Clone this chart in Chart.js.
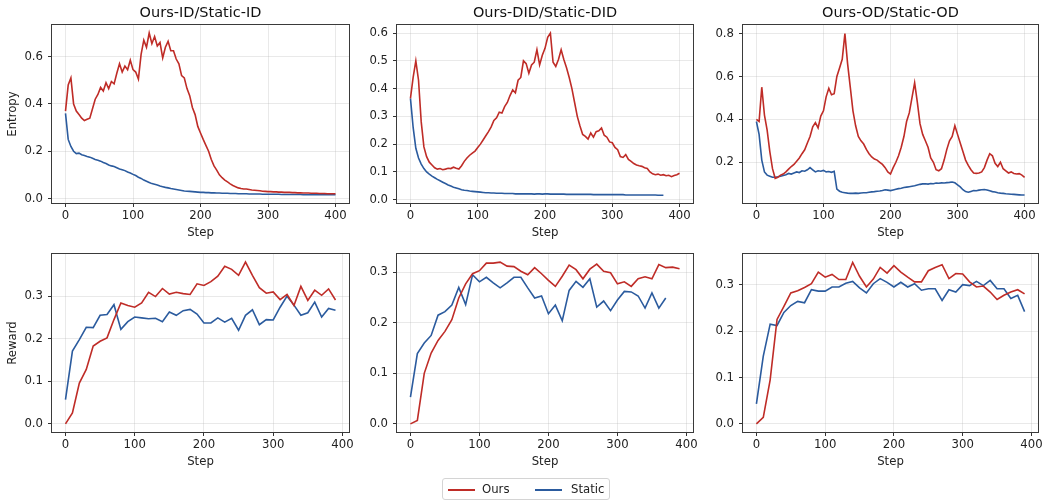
<!DOCTYPE html>
<html>
<head>
<meta charset="utf-8">
<title>Entropy and reward: Ours vs Static</title>
<script src="https://cdn.jsdelivr.net/npm/chart.js@4.4.1/dist/chart.umd.min.js"></script>
<style>
  html, body { margin: 0; padding: 0; background: #fff; }
  #figure { position: relative; width: 1045px; height: 501px; overflow: hidden; font-family: 'DejaVu Sans', sans-serif; }
  #figure canvas { position: absolute; }
  .legend { position: absolute; left: 442px; top: 478px; width: 166px; height: 20px; border: 1px solid #d4d4d4; border-radius: 3px; background: #fff; }
  .legend .swatch { position: absolute; top: 10px; height: 2px; width: 27px; }
  .legend .label { position: absolute; top: 0; line-height: 21px; font-size: 11.7px; color: #222; }
</style>
</head>
<body>
<div id="figure">
  <canvas id="c0"></canvas>
  <canvas id="c1"></canvas>
  <canvas id="c2"></canvas>
  <canvas id="c3"></canvas>
  <canvas id="c4"></canvas>
  <canvas id="c5"></canvas>
  <div class="legend" id="legend"></div>
</div>
<script>
const OURS_COLOR = '#bf2c27';
const STATIC_COLOR = '#2b5b9e';

// entropy logged every 4 steps, reward every 10 steps
const entropySteps = Array.from({ length: 101 }, (_, i) => i * 4);
const rewardSteps = Array.from({ length: 40 }, (_, i) => i * 10);

const stepTicks = [0, 100, 200, 300, 400];
const entropyIdTicks = [0, 0.2, 0.4, 0.6];
const entropyDidTicks = [0, 0.1, 0.2, 0.3, 0.4, 0.5, 0.6];
const entropyOdTicks = [0.2, 0.4, 0.6, 0.8];
const rewardTicks = [0, 0.1, 0.2, 0.3];

const entropyIdOurs = [
  0.37, 0.48, 0.51, 0.40, 0.37, 0.355, 0.34, 0.33, 0.335, 0.34,
  0.38, 0.42, 0.44, 0.47, 0.455, 0.49, 0.465, 0.495, 0.485, 0.53,
  0.57, 0.535, 0.56, 0.545, 0.585, 0.545, 0.535, 0.505, 0.61, 0.67,
  0.64, 0.70, 0.655, 0.685, 0.645, 0.66, 0.595, 0.64, 0.665, 0.625,
  0.625, 0.59, 0.57, 0.52, 0.51, 0.465, 0.435, 0.385, 0.355, 0.305,
  0.277, 0.25, 0.225, 0.20, 0.165, 0.138, 0.12, 0.10, 0.088, 0.078,
  0.07, 0.062, 0.055, 0.05, 0.045, 0.042, 0.04, 0.04, 0.038, 0.036,
  0.035, 0.034, 0.033, 0.031, 0.03, 0.029, 0.029, 0.028, 0.028, 0.027,
  0.027, 0.026, 0.026, 0.026, 0.025, 0.025, 0.024, 0.024, 0.023, 0.023,
  0.023, 0.022, 0.022, 0.022, 0.021, 0.021, 0.021, 0.02, 0.02, 0.02,
  0.02
];
const entropyIdStatic = [
  0.36, 0.25, 0.22, 0.20, 0.19, 0.192, 0.185, 0.182, 0.178, 0.175,
  0.17, 0.165, 0.162, 0.158, 0.152, 0.148, 0.142, 0.138, 0.135, 0.13,
  0.125, 0.122, 0.118, 0.112, 0.108, 0.102, 0.097, 0.09, 0.085, 0.078,
  0.073, 0.068, 0.063, 0.06, 0.057, 0.053, 0.05, 0.047, 0.045, 0.042,
  0.04, 0.038, 0.036, 0.034, 0.032, 0.031, 0.03, 0.029, 0.028, 0.027,
  0.026, 0.026, 0.025, 0.025, 0.024, 0.024, 0.023, 0.023, 0.022, 0.022,
  0.022, 0.021, 0.021, 0.021, 0.02, 0.02, 0.02, 0.02, 0.019, 0.019,
  0.019, 0.019, 0.019, 0.018, 0.018, 0.018, 0.018, 0.018, 0.018, 0.018,
  0.017, 0.017, 0.017, 0.017, 0.017, 0.017, 0.017, 0.017, 0.016, 0.016,
  0.016, 0.016, 0.016, 0.016, 0.016, 0.016, 0.016, 0.016, 0.016, 0.016,
  0.016
];

const entropyDidOurs = [
  0.365, 0.44, 0.50, 0.43, 0.28, 0.19, 0.155, 0.135, 0.125, 0.115,
  0.11, 0.112, 0.108, 0.11, 0.113, 0.112, 0.117, 0.113, 0.11, 0.122,
  0.138, 0.15, 0.16, 0.168, 0.175, 0.188, 0.2, 0.215, 0.23, 0.245,
  0.262, 0.285, 0.295, 0.315, 0.312, 0.335, 0.35, 0.375, 0.395, 0.385,
  0.43, 0.44, 0.50, 0.49, 0.455, 0.485, 0.495, 0.54, 0.485, 0.52,
  0.545, 0.585, 0.60, 0.495, 0.48, 0.505, 0.54, 0.505, 0.475, 0.44,
  0.40, 0.35, 0.30, 0.265, 0.235, 0.228, 0.218, 0.24, 0.225, 0.245,
  0.248, 0.258, 0.232, 0.225, 0.208, 0.205, 0.188, 0.18, 0.155, 0.152,
  0.162, 0.145, 0.138, 0.13, 0.125, 0.122, 0.12, 0.115, 0.112, 0.1,
  0.093, 0.09, 0.092, 0.088, 0.09, 0.086, 0.088, 0.083, 0.087, 0.09,
  0.095
];
const entropyDidStatic = [
  0.365, 0.26, 0.185, 0.15, 0.128, 0.112, 0.1, 0.092, 0.085, 0.079,
  0.073, 0.068, 0.063, 0.058, 0.053, 0.049, 0.045, 0.042, 0.039, 0.036,
  0.034, 0.033, 0.031, 0.03, 0.029, 0.028, 0.027, 0.026, 0.025, 0.025,
  0.024, 0.024, 0.023, 0.023, 0.023, 0.022, 0.022, 0.022, 0.022, 0.021,
  0.021, 0.021, 0.021, 0.021, 0.021, 0.021, 0.02, 0.021, 0.021, 0.02,
  0.021, 0.021, 0.02, 0.02, 0.02, 0.02, 0.02, 0.02, 0.019, 0.019,
  0.019, 0.019, 0.019, 0.019, 0.019, 0.019, 0.019, 0.019, 0.018, 0.018,
  0.018, 0.018, 0.018, 0.018, 0.018, 0.018, 0.018, 0.018, 0.018, 0.018,
  0.017, 0.017, 0.017, 0.017, 0.017, 0.017, 0.017, 0.017, 0.017, 0.017,
  0.017, 0.017, 0.016, 0.016, 0.016
];

const entropyOdOurs = [
  0.40, 0.39, 0.55, 0.42, 0.35, 0.25, 0.17, 0.125, 0.13, 0.14,
  0.145, 0.155, 0.168, 0.18, 0.19, 0.205, 0.22, 0.24, 0.258, 0.29,
  0.32, 0.365, 0.385, 0.36, 0.415, 0.44, 0.505, 0.545, 0.515, 0.52,
  0.60, 0.64, 0.68, 0.80, 0.66, 0.55, 0.44, 0.37, 0.32, 0.30,
  0.285, 0.26, 0.24, 0.225, 0.215, 0.21, 0.2, 0.19, 0.175, 0.155,
  0.145, 0.175, 0.2, 0.23, 0.27, 0.32, 0.39, 0.43, 0.5, 0.57,
  0.48, 0.38, 0.33, 0.3, 0.27, 0.22, 0.2, 0.165, 0.16, 0.17,
  0.21, 0.26, 0.3, 0.32, 0.37, 0.33, 0.29, 0.25, 0.21, 0.185,
  0.165, 0.15, 0.148, 0.15, 0.155, 0.175, 0.21, 0.24, 0.23, 0.195,
  0.18, 0.2, 0.17, 0.16, 0.15, 0.155, 0.148, 0.145, 0.147, 0.14,
  0.13
];
const entropyOdStatic = [
  0.39, 0.33, 0.21, 0.155, 0.14, 0.135, 0.13, 0.13, 0.132, 0.135,
  0.138, 0.142, 0.148, 0.145, 0.15, 0.155, 0.152, 0.16, 0.158, 0.165,
  0.175, 0.165, 0.155, 0.16, 0.158, 0.162, 0.155, 0.157, 0.153, 0.158,
  0.075, 0.065, 0.06, 0.058, 0.056, 0.055, 0.055, 0.056, 0.055, 0.057,
  0.058, 0.058, 0.06, 0.062, 0.063, 0.065, 0.066, 0.068, 0.072, 0.07,
  0.068, 0.071, 0.074, 0.077, 0.079, 0.082, 0.084, 0.086, 0.088, 0.09,
  0.094, 0.097, 0.099, 0.1, 0.098, 0.101, 0.1, 0.103, 0.102, 0.104,
  0.103, 0.105, 0.106, 0.108, 0.104, 0.095, 0.085, 0.072, 0.063, 0.06,
  0.064, 0.068, 0.067, 0.07, 0.072, 0.073, 0.071, 0.067, 0.063, 0.061,
  0.058, 0.056, 0.055, 0.053, 0.052, 0.051, 0.05, 0.049, 0.048, 0.047,
  0.047
];

const rewardIdOurs = [
  0, 0.026, 0.096, 0.128, 0.183, 0.194, 0.202, 0.245, 0.284, 0.278,
  0.274, 0.284, 0.309, 0.299, 0.318, 0.305, 0.309, 0.306, 0.304, 0.329,
  0.325, 0.334, 0.347, 0.37, 0.363, 0.349, 0.38, 0.349, 0.32, 0.307,
  0.31, 0.292, 0.304, 0.278, 0.323, 0.29, 0.314, 0.302, 0.317, 0.291
];
const rewardIdStatic = [
  0.057, 0.171, 0.198, 0.227, 0.226, 0.255, 0.257, 0.28, 0.222, 0.24,
  0.251, 0.249, 0.247, 0.248, 0.24, 0.263, 0.255, 0.266, 0.269, 0.258,
  0.237, 0.237, 0.249, 0.239, 0.248, 0.22, 0.255, 0.268, 0.233, 0.245,
  0.244, 0.274, 0.3, 0.279, 0.255, 0.261, 0.286, 0.251, 0.271, 0.267
];
const rewardDidOurs = [
  0, 0.007, 0.1, 0.14, 0.165, 0.183, 0.206, 0.249, 0.277, 0.297,
  0.303, 0.318, 0.318, 0.32, 0.312, 0.311, 0.302, 0.295, 0.309, 0.297,
  0.284, 0.272, 0.292, 0.314, 0.305, 0.287, 0.306, 0.316, 0.302, 0.299,
  0.277, 0.281, 0.272, 0.287, 0.291, 0.287, 0.315, 0.309, 0.31, 0.307
];
const rewardDidStatic = [
  0.053, 0.139, 0.16, 0.175, 0.215, 0.222, 0.235, 0.27, 0.236, 0.295,
  0.281, 0.29, 0.279, 0.269, 0.279, 0.29, 0.29, 0.269, 0.249, 0.253,
  0.218, 0.235, 0.204, 0.264, 0.282, 0.27, 0.287, 0.231, 0.243, 0.224,
  0.245, 0.262, 0.261, 0.253, 0.229, 0.259, 0.229, 0.249
];
const rewardOdOurs = [
  0, 0.014, 0.095, 0.225, 0.253, 0.282, 0.287, 0.294, 0.302, 0.327,
  0.316, 0.322, 0.311, 0.311, 0.348, 0.318, 0.295, 0.312, 0.337, 0.325,
  0.341, 0.327, 0.316, 0.306, 0.306, 0.33, 0.337, 0.343, 0.313, 0.324,
  0.323, 0.306, 0.295, 0.297, 0.284, 0.268, 0.277, 0.284, 0.289, 0.28
];
const rewardOdStatic = [
  0.043, 0.146, 0.215, 0.212, 0.24, 0.255, 0.264, 0.261, 0.289, 0.286,
  0.286, 0.295, 0.295, 0.303, 0.307, 0.293, 0.282, 0.302, 0.313, 0.305,
  0.295, 0.305, 0.295, 0.302, 0.288, 0.291, 0.291, 0.266, 0.289, 0.284,
  0.3, 0.298, 0.307, 0.298, 0.309, 0.291, 0.291, 0.27, 0.277, 0.242
];

// grid geometry (matches the 2x3 subplot layout)
const colLeft = [52, 397, 743];
const colWidth = [297, 296, 295];
const rowTop = [25, 254];
const PLOT_H = 178;
const Y_AXIS_W = 50;
const X_AXIS_H = 40;
const PAD_TOP = 25;
const PAD_RIGHT = 12;

const panels = [
  { id: 'c0', row: 0, col: 0, title: 'Ours-ID/Static-ID', yLabel: 'Entropy', steps: entropySteps,
    ours: entropyIdOurs, stat: entropyIdStatic, yTicks: entropyIdTicks, yMin: -0.019, yMax: 0.734, xMin: -20, xMax: 420 },
  { id: 'c1', row: 0, col: 1, title: 'Ours-DID/Static-DID', steps: entropySteps,
    ours: entropyDidOurs, stat: entropyDidStatic, yTicks: entropyDidTicks, yMin: -0.012, yMax: 0.629, xMin: -20, xMax: 420 },
  { id: 'c2', row: 0, col: 2, title: 'Ours-OD/Static-OD', steps: entropySteps,
    ours: entropyOdOurs, stat: entropyOdStatic, yTicks: entropyOdTicks, yMin: 0.01, yMax: 0.84, xMin: -20, xMax: 420 },
  { id: 'c3', row: 1, col: 0, yLabel: 'Reward', steps: rewardSteps,
    ours: rewardIdOurs, stat: rewardIdStatic, yTicks: rewardTicks, yMin: -0.019, yMax: 0.399, xMin: -19.5, xMax: 409.5 },
  { id: 'c4', row: 1, col: 1, steps: rewardSteps,
    ours: rewardDidOurs, stat: rewardDidStatic, yTicks: rewardTicks, yMin: -0.016, yMax: 0.336, xMin: -19.5, xMax: 409.5 },
  { id: 'c5', row: 1, col: 2, steps: rewardSteps,
    ours: rewardOdOurs, stat: rewardOdStatic, yTicks: rewardTicks, yMin: -0.0174, yMax: 0.366, xMin: -19.5, xMax: 409.5 }
];

Chart.defaults.font.family = "'DejaVu Sans', sans-serif";
Chart.defaults.color = '#222';

const tickFont = { size: 11.7 };
const gridColor = 'rgba(176,176,176,0.35)';

// frame around the plot area + centred panel title
const panelDecor = {
  id: 'panelDecor',
  afterDatasetsDraw(chart, args, opts) {
    const { ctx, chartArea: a } = chart;
    ctx.save();
    ctx.strokeStyle = '#3a3a3a';
    ctx.lineWidth = 1;
    ctx.strokeRect(a.left - 0.5, a.top - 0.5, a.right - a.left + 1, a.bottom - a.top + 1);
    if (opts.text) {
      ctx.fillStyle = '#111';
      ctx.font = "14.5px 'DejaVu Sans', sans-serif";
      ctx.textAlign = 'center';
      ctx.textBaseline = 'middle';
      ctx.fillText(opts.text, (a.left + a.right) / 2, a.top - 12);
    }
    ctx.restore();
  }
};

function toPoints(steps, values) {
  return values.map((v, i) => ({ x: steps[i], y: v }));
}

panels.forEach(p => {
  const canvas = document.getElementById(p.id);
  const w = Y_AXIS_W + colWidth[p.col] + PAD_RIGHT;
  const h = PAD_TOP + PLOT_H + X_AXIS_H;
  canvas.width = w;
  canvas.height = h;
  canvas.style.left = (colLeft[p.col] - Y_AXIS_W) + 'px';
  canvas.style.top = (rowTop[p.row] - PAD_TOP) + 'px';

  new Chart(canvas, {
    type: 'line',
    data: {
      datasets: [
        { label: 'Ours', data: toPoints(p.steps, p.ours), borderColor: OURS_COLOR, backgroundColor: OURS_COLOR },
        { label: 'Static', data: toPoints(p.steps, p.stat), borderColor: STATIC_COLOR, backgroundColor: STATIC_COLOR }
      ]
    },
    options: {
      responsive: false,
      animation: false,
      devicePixelRatio: 1,
      layout: { padding: { left: 0, top: PAD_TOP, right: PAD_RIGHT, bottom: 0 } },
      elements: {
        point: { radius: 0 },
        line: { borderWidth: 1.6, tension: 0 }
      },
      plugins: {
        legend: { display: false },
        tooltip: { enabled: false },
        panelDecor: { text: p.title || '' }
      },
      scales: {
        x: {
          type: 'linear',
          min: p.xMin,
          max: p.xMax,
          afterBuildTicks: s => { s.ticks = stepTicks.map(v => ({ value: v })); },
          afterFit: s => { s.height = X_AXIS_H; },
          border: { display: false },
          grid: { color: gridColor, lineWidth: 0.8, drawTicks: true, tickLength: 4, tickColor: '#333', tickWidth: 1 },
          ticks: { font: tickFont, padding: 2, maxRotation: 0, callback: v => v },
          title: { display: true, text: 'Step', font: tickFont, padding: { top: 0, bottom: 3 } }
        },
        y: {
          type: 'linear',
          min: p.yMin,
          max: p.yMax,
          afterBuildTicks: s => { s.ticks = p.yTicks.map(v => ({ value: v })); },
          afterFit: s => { s.width = Y_AXIS_W; },
          border: { display: false },
          grid: { color: gridColor, lineWidth: 0.8, drawTicks: true, tickLength: 4, tickColor: '#333', tickWidth: 1 },
          ticks: { font: tickFont, padding: 5, callback: v => v.toFixed(1) },
          title: { display: !!p.yLabel, text: p.yLabel || '', font: tickFont, padding: { top: 3.5, bottom: 0 } }
        }
      }
    },
    plugins: [panelDecor]
  });
});

// shared legend below the grid
const legendItems = [
  { label: 'Ours', color: OURS_COLOR, swatchLeft: 5, textLeft: 39 },
  { label: 'Static', color: STATIC_COLOR, swatchLeft: 92, textLeft: 128 }
];
const legend = document.getElementById('legend');
legendItems.forEach(item => {
  const sw = document.createElement('span');
  sw.className = 'swatch';
  sw.style.left = item.swatchLeft + 'px';
  sw.style.background = item.color;
  const tx = document.createElement('span');
  tx.className = 'label';
  tx.style.left = item.textLeft + 'px';
  tx.textContent = item.label;
  legend.appendChild(sw);
  legend.appendChild(tx);
});
</script>
</body>
</html>
